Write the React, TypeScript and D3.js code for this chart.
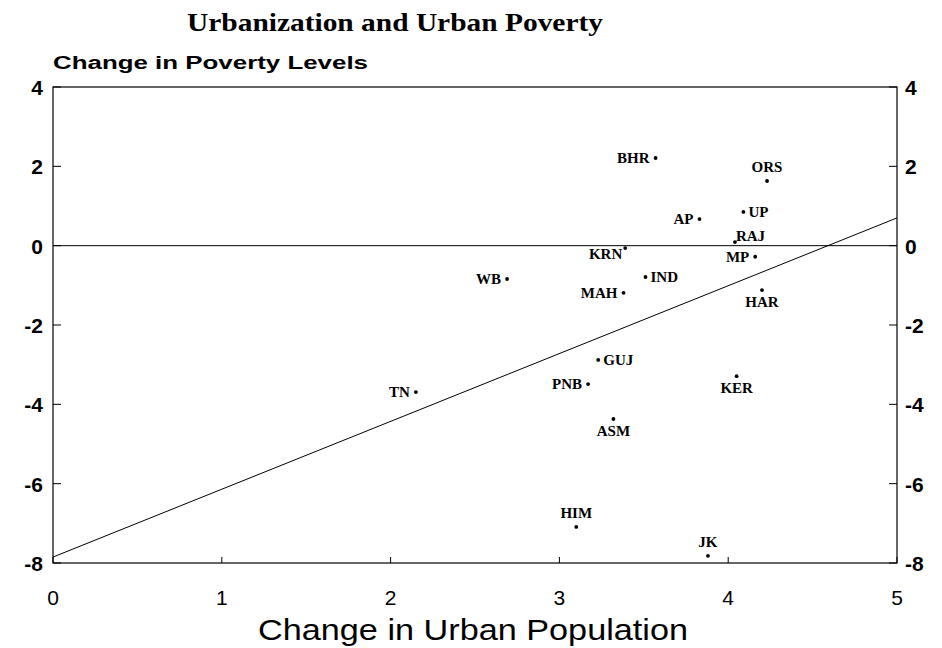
import * as d3 from 'd3';

// states and their (change in urban population, change in poverty levels)
const states = ['BHR', 'ORS', 'UP', 'AP', 'RAJ', 'KRN', 'MP', 'WB', 'IND', 'MAH', 'HAR', 'GUJ', 'PNB', 'TN', 'KER', 'ASM', 'HIM', 'JK'];
const urbanChange = [3.57, 4.23, 4.09, 3.83, 4.04, 3.39, 4.16, 2.69, 3.51, 3.38, 4.2, 3.23, 3.17, 2.15, 4.05, 3.32, 3.1, 3.88];
const povertyChange = [2.21, 1.63, 0.85, 0.67, 0.09, -0.06, -0.28, -0.84, -0.79, -1.19, -1.12, -2.88, -3.49, -3.69, -3.29, -4.37, -7.09, -7.82];

// fitted line end points
const fitX = [0, 5];
const fitY = [-7.85, 0.7];

const xTicks = [0, 1, 2, 3, 4, 5];
const yTicks = [4, 2, 0, -2, -4, -6, -8];

// where each label sits relative to its dot
const labelSide: Record<string, string> = {
  BHR: 'l', ORS: 't', UP: 'r', AP: 'l', RAJ: 'ru', KRN: 'ld', MP: 'l', WB: 'l', IND: 'r',
  MAH: 'l', HAR: 'b', GUJ: 'r', PNB: 'l', TN: 'l', KER: 'b', ASM: 'b', HIM: 't', JK: 't',
};

const W = 942;
const H = 648;
const margin = { top: 87, right: 45, bottom: 85, left: 53 };

export default function App() {
  const x = d3.scaleLinear().domain([0, 5]).range([margin.left, W - margin.right]);
  const y = d3.scaleLinear().domain([-8, 4]).range([H - margin.bottom, margin.top]);
  const line = d3.line<number>().x((d) => x(fitX[d])).y((d) => y(fitY[d]));

  const sans = 'Liberation Sans, Arial, sans-serif';
  const serif = 'Liberation Serif, Times New Roman, serif';

  const labelPos = (side: string, px: number, py: number) => {
    switch (side) {
      case 'l': return { x: px - 6, y: py + 5, anchor: 'end' };
      case 'ld': return { x: px - 3, y: py + 11, anchor: 'end' };
      case 'r': return { x: px + 5, y: py + 5, anchor: 'start' };
      case 'ru': return { x: px + 1, y: py - 1, anchor: 'start' };
      case 't': return { x: px, y: py - 9, anchor: 'middle' };
      default: return { x: px, y: py + 17, anchor: 'middle' };
    }
  };

  return (
    <svg width={W} height={H} style={{ position: 'absolute', left: 0, top: 0 }}>
      <rect width={W} height={H} fill="#fff" />
      <text x={395} y={31} textAnchor="middle" fontFamily={serif} fontWeight="bold" fontSize={25}
        textLength={416} lengthAdjust="spacingAndGlyphs">Urbanization and Urban Poverty</text>
      <text x={53} y={69} fontFamily={sans} fontWeight="bold" fontSize={18}
        textLength={315} lengthAdjust="spacingAndGlyphs">Change in Poverty Levels</text>

      <rect x={x(0)} y={y(4)} width={x(5) - x(0)} height={y(-8) - y(4)} fill="none" stroke="#000" strokeWidth={1.2} />

      {yTicks.map((t) => (
        <g key={'y' + t}>
          <line x1={x(0)} x2={x(0) + 8} y1={y(t)} y2={y(t)} stroke="#000" />
          <line x1={x(5) - 8} x2={x(5)} y1={y(t)} y2={y(t)} stroke="#000" />
          <text x={x(0) - 10} y={y(t) + 8} textAnchor="end" fontFamily={sans} fontWeight="bold" fontSize={21}>{t}</text>
          <text x={x(5) + 8} y={y(t) + 8} textAnchor="start" fontFamily={sans} fontWeight="bold" fontSize={21}>{t}</text>
        </g>
      ))}
      {xTicks.map((t) => (
        <g key={'x' + t}>
          <line x1={x(t)} x2={x(t)} y1={y(-8)} y2={y(-8) - 6} stroke="#000" />
          <text x={x(t)} y={y(-8) + 42} textAnchor="middle" fontFamily={sans} fontSize={21}>{t}</text>
        </g>
      ))}

      <line x1={x(0)} x2={x(5)} y1={y(0)} y2={y(0)} stroke="#000" strokeWidth={1} />
      <path d={line([0, 1]) || ''} fill="none" stroke="#000" strokeWidth={1} />

      {states.map((s, i) => {
        const px = x(urbanChange[i]);
        const py = y(povertyChange[i]);
        const p = labelPos(labelSide[s], px, py);
        return (
          <g key={s}>
            <circle cx={px} cy={py} r={1.9} fill="#000" />
            <text x={p.x} y={p.y} textAnchor={p.anchor} fontFamily={serif} fontWeight="bold" fontSize={15}>{s}</text>
          </g>
        );
      })}

      <text x={473} y={640} textAnchor="middle" fontFamily={sans} fontSize={29}
        textLength={430} lengthAdjust="spacingAndGlyphs">Change in Urban Population</text>
    </svg>
  );
}
